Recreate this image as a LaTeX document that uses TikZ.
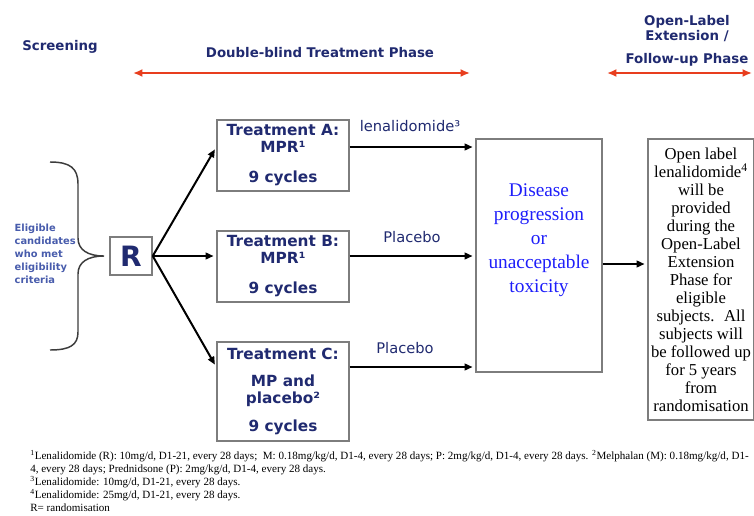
\documentclass[tikz,border=0pt]{standalone}
\usepackage{fontspec}
\setmainfont{Liberation Serif}
\newfontfamily\vsans{DejaVu Sans}
\usepackage{tikz}
\usetikzlibrary{arrows.meta,positioning}
\definecolor{navy}{RGB}{32,42,112}
\definecolor{paleblue}{RGB}{72,92,172}
\definecolor{phasered}{RGB}{232,62,30}
\definecolor{boxgrey}{RGB}{125,125,125}
\definecolor{bracegrey}{RGB}{60,60,60}
\definecolor{outcomeblue}{RGB}{30,30,250}

\begin{document}
\begin{tikzpicture}[
  x=0.75pt, y=-0.75pt,
  heading/.style={font=\vsans\bfseries\fontsize{10pt}{11.25pt}\selectfont, text=navy, align=center},
  treatment/.style={draw=boxgrey, line width=1.1pt, minimum width=99pt, align=center,
                    text=navy, font=\vsans\bfseries\fontsize{11.5pt}{12.75pt}\selectfont},
  armlabel/.style={font=\vsans\fontsize{11pt}{13pt}\selectfont, text=navy},
  outline/.style={draw=boxgrey, line width=1.1pt},
  phase/.style={{Latex[length=7pt,width=6pt]}-{Latex[length=7pt,width=6pt]}, phasered, line width=2.2pt},
  arrow/.style={-{Triangle[length=6pt,width=5pt]}, line width=1.5pt, shorten >=2pt}
]
  \useasboundingbox (0,0) rectangle (754,515);

  % phase headings
  \node[heading] (screening) at (60,47) {Screening};
  \node[heading] (doubleblind) at (320,53) {Double-blind Treatment Phase};
  \node[heading] (openlabel) at (687,41) {Open-Label\\Extension /\\[6pt]Follow-up Phase};
  \coordinate (dbstart) at (133,73);
  \coordinate (dbend) at (470,73);
  \coordinate (olstart) at (607,73);
  \coordinate (olend) at (752,73);
  \draw[phase] (dbstart) -- (dbend);
  \draw[phase] (olstart) -- (olend);

  % screening and randomisation
  \node[anchor=west, align=left, text=paleblue,
        font=\vsans\bfseries\fontsize{7.4pt}{9.75pt}\selectfont] (eligible) at (10,254)
    {Eligible\\candidates\\who met\\eligibility\\criteria};
  \draw[bracegrey, line width=1.1pt]
    (50,162) .. controls (70,162) and (78,168) .. (78,184) -- (78,238)
    .. controls (78,250) and (88,256) .. (104,256)
    .. controls (88,256) and (78,262) .. (78,274) -- (78,332)
    .. controls (78,345) and (70,350) .. (50,350);
  \node[outline, minimum width=31.5pt, minimum height=28.5pt, text=navy,
        font=\vsans\bfseries\fontsize{21pt}{24pt}\selectfont] (R) at (131,256) {R};

  % treatment arms
  \node[treatment, minimum height=53.25pt] (armA) at (283,155.5)
    {Treatment A:\\MPR¹\\[9.75pt]9 cycles};
  \node[treatment, minimum height=53.25pt] (armB) at (283,266.5)
    {Treatment B:\\MPR¹\\[9.75pt]9 cycles};
  \node[treatment, minimum height=74.25pt] (armC) at (283,391.5)
    {Treatment C:\\[7.5pt]MP and\\placebo²\\[8.25pt]9 cycles};

  % outcome boxes
  \node[outline, minimum width=94.5pt, minimum height=174.75pt] (disease) at (539,255.5) {};
  \node[align=center, text=outcomeblue, font=\fontsize{14.5pt}{18pt}\selectfont] (outcome) at (539,240)
    {Disease\\progression\\or\\unacceptable\\toxicity};
  \node[outline, minimum width=79.5pt, minimum height=210.75pt, align=center, inner sep=0pt,
        font=\fontsize{12.5pt}{13.5pt}\selectfont] (extension) at (701,279.5)
    {Open label\\lenalidomide\textsuperscript{4}\\will be\\provided\\during the\\Open-Label\\Extension\\Phase for\\eligible\\subjects.~ All\\subjects will\\be followed up\\for 5 years\\from\\randomisation};

  % connectors
  \coordinate (rowA) at (0,147);
  \coordinate (rowB) at (0,256);
  \coordinate (rowC) at (0,367);
  \coordinate (rowX) at (0,264);
  \draw[arrow] (R.east) -- (armA.west |- rowA);
  \draw[arrow] (R.east) -- (armB.west |- rowB);
  \draw[arrow] (R.east) -- (armC.west |- rowC);
  \draw[arrow] (armA.east |- rowA) -- (disease.west |- rowA);
  \draw[arrow] (armB.east |- rowB) -- (disease.west |- rowB);
  \draw[arrow] (armC.east |- rowC) -- (disease.west |- rowC);
  \draw[arrow] (disease.east |- rowX) -- (extension.west |- rowX);
  \node[armlabel] (lenalabel) at (410,126) {lenalidomide³};
  \node[armlabel] (placeboB) at (412,237) {Placebo};
  \node[armlabel] (placeboC) at (405,348) {Placebo};

  % footnotes
  \node[anchor=north west, align=left, inner sep=0pt,
        font=\fontsize{8.3pt}{9.75pt}\selectfont] (notes) at (30,450)
    {\textsuperscript{1}Lenalidomide (R): 10mg/d, D1-21, every 28 days;~ M: 0.18mg/kg/d, D1-4, every 28 days; P: 2mg/kg/d, D1-4, every 28 days. \textsuperscript{2}Melphalan (M): 0.18mg/kg/d, D1-\\
     4, every 28 days; Prednidsone (P): 2mg/kg/d, D1-4, every 28 days.\\
     \textsuperscript{3}Lenalidomide: 10mg/d, D1-21, every 28 days.\\
     \textsuperscript{4}Lenalidomide: 25mg/d, D1-21, every 28 days.\\
     R= randomisation};
\end{tikzpicture}
\end{document}
